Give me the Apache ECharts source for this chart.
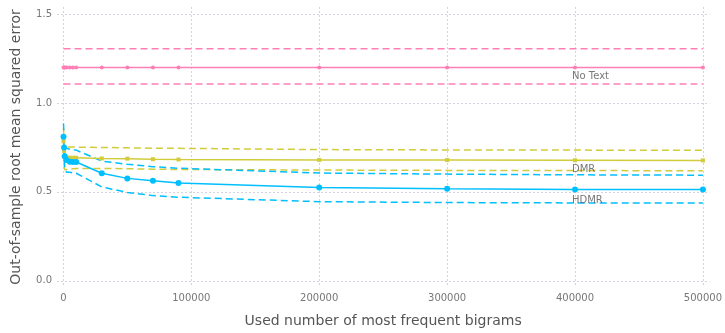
<!DOCTYPE html>
<html>
<head>
<meta charset="utf-8">
<script src="https://cdn.jsdelivr.net/npm/echarts@6/dist/echarts.min.js"></script>
<style>html,body{margin:0;padding:0;background:#fff;}#c{width:725px;height:333px;}</style>
</head>
<body>
<div id="c"></div>
<script>
const xs = [100, 500, 1000, 2500, 5000, 7500, 10000, 30000, 50000, 70000, 90000, 200000, 300000, 400000, 500000];

const noTextMean  = [1.2, 1.2, 1.2, 1.2, 1.2, 1.2, 1.2, 1.2, 1.2, 1.2, 1.2, 1.2, 1.2, 1.2, 1.2];
const noTextUpper = [1.305, 1.305, 1.305, 1.305, 1.305, 1.305, 1.305, 1.305, 1.305, 1.305, 1.305, 1.305, 1.305, 1.305, 1.305];
const noTextLower = [1.107, 1.107, 1.107, 1.107, 1.107, 1.107, 1.107, 1.107, 1.107, 1.107, 1.107, 1.107, 1.107, 1.107, 1.107];

const dmrMean  = [0.785, 0.73, 0.70, 0.695, 0.692, 0.692, 0.692, 0.688, 0.687, 0.684, 0.682, 0.68, 0.679, 0.678, 0.677];
const dmrUpper = [0.86, 0.77, 0.755, 0.753, 0.752, 0.752, 0.752, 0.75, 0.748, 0.746, 0.745, 0.738, 0.736, 0.735, 0.734];
const dmrLower = [0.71, 0.66, 0.625, 0.625, 0.628, 0.63, 0.632, 0.632, 0.63, 0.628, 0.626, 0.623, 0.621, 0.62, 0.619];

const hdmrMean  = [0.81, 0.75, 0.70, 0.68, 0.67, 0.668, 0.668, 0.605, 0.576, 0.563, 0.55, 0.524, 0.517, 0.514, 0.513];
const hdmrUpper = [0.885, 0.80, 0.76, 0.745, 0.74, 0.735, 0.735, 0.673, 0.655, 0.642, 0.633, 0.606, 0.60, 0.596, 0.594];
const hdmrLower = [0.74, 0.70, 0.64, 0.61, 0.61, 0.607, 0.605, 0.528, 0.497, 0.479, 0.47, 0.445, 0.44, 0.438, 0.437];

const xTicks = [0, 100000, 200000, 300000, 400000, 500000];
const yTicks = [0, 0.5, 1.0, 1.5];

const labels = [
  { name: 'No Text', x: 400000, y: 1.152 },
  { name: 'DMR', x: 400000, y: 0.625 },
  { name: 'HDMR', x: 400000, y: 0.453 }
];

const PINK = '#ff7fb6', YEL = '#d2cb3c', CYAN = '#00bfff';
const FONT = 'DejaVu Sans';

function pts(ys) { return xs.map((x, i) => [x, ys[i]]); }
function solid(ys, color, symbol, size) {
  return { type: 'line', data: pts(ys), symbol: symbol, symbolSize: size, showSymbol: true,
    lineStyle: { color: color, width: 1.5 }, itemStyle: { color: color }, silent: true, z: 3 };
}
function dashed(ys, color) {
  return { type: 'line', data: pts(ys), symbol: 'none',
    lineStyle: { color: color, width: 1.5, type: [7, 4] }, silent: true, z: 2 };
}

const chart = echarts.init(document.getElementById('c'), null, { renderer: 'canvas' });
chart.setOption({
  animation: false,
  backgroundColor: '#fff',
  grid: { left: 57, right: 13, top: 7, bottom: 40, containLabel: false },
  xAxis: {
    type: 'value', min: -5000, max: 505000,
    name: 'Used number of most frequent bigrams', nameLocation: 'middle', nameGap: 27,
    nameTextStyle: { fontFamily: FONT, fontSize: 14, color: '#555' },
    axisLine: { show: false },
    axisTick: { show: false, customValues: xTicks },
    axisLabel: { customValues: xTicks, fontFamily: FONT, fontSize: 10, color: '#777', margin: 6,
      formatter: v => String(v) },
    splitLine: { show: true, lineStyle: { color: '#d2d2e2', type: [2, 2], width: 1 } }
  },
  yAxis: {
    type: 'value', min: -0.035, max: 1.54,
    name: 'Out-of-sample root mean squared error', nameLocation: 'middle', nameGap: 34,
    nameTextStyle: { fontFamily: FONT, fontSize: 14, color: '#555' },
    axisLine: { show: false },
    axisTick: { show: false, customValues: yTicks },
    axisLabel: { customValues: yTicks, fontFamily: FONT, fontSize: 10, color: '#777', margin: 5,
      formatter: v => v.toFixed(1) },
    splitLine: { show: true, lineStyle: { color: '#d2d2e2', type: [2, 2], width: 1 } }
  },
  series: [
    dashed(noTextUpper, PINK), dashed(noTextLower, PINK), solid(noTextMean, PINK, 'circle', 4),
    dashed(dmrUpper, YEL), dashed(dmrLower, YEL), solid(dmrMean, YEL, 'rect', 4),
    dashed(hdmrUpper, CYAN), dashed(hdmrLower, CYAN), solid(hdmrMean, CYAN, 'circle', 6),
    {
      type: 'scatter', symbolSize: 0, silent: true, z: 5,
      data: labels.map(l => ({ value: [l.x, l.y], name: l.name })),
      label: { show: true, position: 'inside', align: 'left', offset: [-3, 0],
        formatter: p => p.name, fontFamily: FONT, fontSize: 10, color: '#555' }
    }
  ]
});
</script>
</body>
</html>
